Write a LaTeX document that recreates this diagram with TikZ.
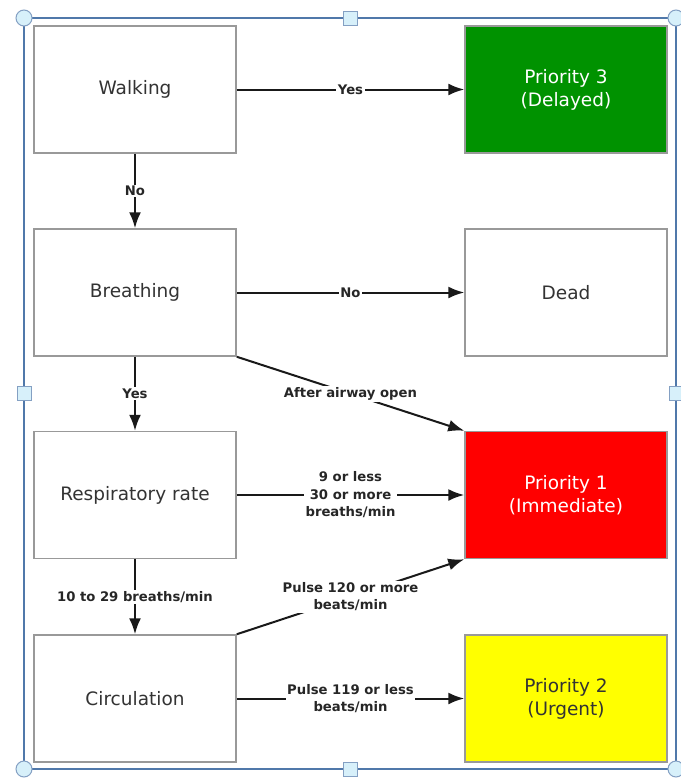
\documentclass[tikz,border=0pt]{standalone}
\usepackage{fontspec}
\setmainfont{DejaVu Sans}
\usetikzlibrary{arrows.meta}
\definecolor{delayed}{RGB}{0,146,0}
\definecolor{immediate}{RGB}{255,0,0}
\definecolor{urgent}{RGB}{255,255,0}
\definecolor{framecol}{RGB}{80,120,170}
\definecolor{handlecol}{RGB}{215,240,250}
\begin{document}
\begin{tikzpicture}[x=1pt, y=-1pt,
        stage/.style={rectangle, draw=gray!80, line width=1.5pt, minimum width=202pt, minimum height=127pt, align=center, text=black!80, font=\fontsize{18.5}{23}\selectfont},
        arrow/.style={-{Latex[length=16pt,width=12pt]}, line width=2pt, black!90},
        cond/.style={fill=white, inner sep=1.5pt, align=center, font=\bfseries\fontsize{13.2}{17.5}\selectfont, text=black!85},
        handle/.style={draw=framecol!70, line width=1pt, fill=handlecol}
    ]
        \useasboundingbox (0,0) rectangle (680,779);

        % Selection frame
        \draw[framecol, line width=1.5pt] (24,18) rectangle (676,769);
        \foreach \hx/\hy in {350/18, 24/393, 676/393, 350/769}
            \filldraw[handle] (\hx-7,\hy-7) rectangle (\hx+7,\hy+7);
        \foreach \hx/\hy in {24/18, 676/18, 24/769, 676/769}
            \filldraw[handle] (\hx,\hy) circle (8);

        % Assessment steps
        \node[stage, fill=white] (walk) at (135,89.5) {Walking};
        \node[stage, fill=white] (breath) at (135,292.5) {Breathing};
        \node[stage, fill=white] (resp) at (135,495) {Respiratory rate};
        \node[stage, fill=white] (circ) at (135,698.5) {Circulation};

        % Outcomes
        \node[stage, fill=delayed, text=white] (prio3) at (566,89.5) {Priority 3\\(Delayed)};
        \node[stage, fill=white] (dead) at (566,292.5) {Dead};
        \node[stage, fill=immediate, text=white] (prio1) at (566,495) {Priority 1\\(Immediate)};
        \node[stage, fill=urgent] (prio2) at (566,698.5) {Priority 2\\(Urgent)};

        % Connect steps
        \draw[arrow] (walk) -- node[cond, midway] {Yes} (prio3);
        \draw[arrow] (walk) -- node[cond, midway] {No} (breath);
        \draw[arrow] (breath) -- node[cond, midway] {No} (dead);
        \draw[arrow] (breath) -- node[cond, midway] {Yes} (resp);
        \draw[arrow] (breath.south east) -- node[cond, midway] {After airway open} (prio1.north west);
        \draw[arrow] (resp) -- node[cond, midway] {9 or less\\30 or more\\breaths/min} (prio1);
        \draw[arrow] (resp) -- node[cond, midway] {10 to 29 breaths/min} (circ);
        \draw[arrow] (circ.north east) -- node[cond, midway] {Pulse 120 or more\\beats/min} (prio1.south west);
        \draw[arrow] (circ) -- node[cond, midway] {Pulse 119 or less\\beats/min} (prio2);
    \end{tikzpicture}
\end{document}
